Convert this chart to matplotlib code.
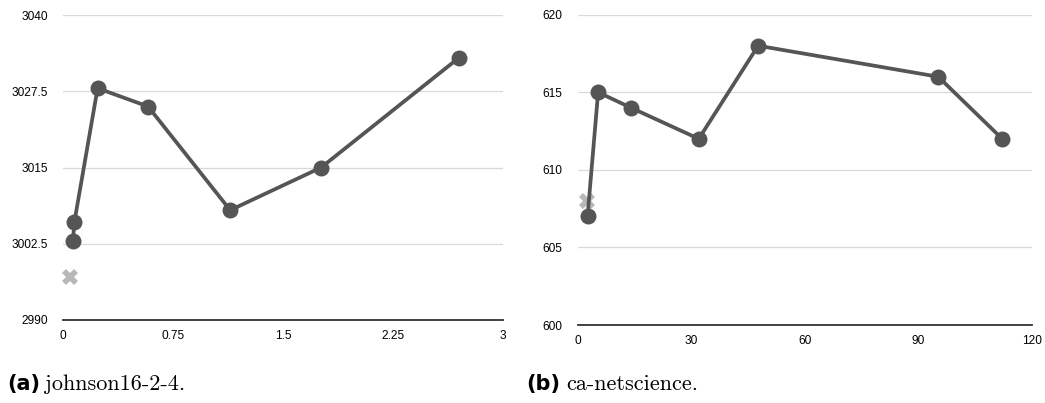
import matplotlib
matplotlib.use('Agg')
import matplotlib.pyplot as plt

# (a) johnson16-2-4
a_x = [0.068, 0.077, 0.236, 0.58, 1.14, 1.76, 2.70]
a_y = [3003, 3006, 3028, 3025, 3008, 3015, 3033]
a_cross = (0.048, 2997)
a_xticks = [0, 0.75, 1.5, 2.25, 3]
a_xlabels = ['0', '0.75', '1.5', '2.25', '3']
a_yticks = [2990, 3002.5, 3015, 3027.5, 3040]
a_ylabels = ['2990', '3002.5', '3015', '3027.5', '3040']

# (b) ca-netscience
b_x = [2.6, 5.4, 14.1, 32.0, 47.7, 95.3, 112.2]
b_y = [607, 615, 614, 612, 618, 616, 612]
b_cross = (2.4, 608)
b_xticks = [0, 30, 60, 90, 120]
b_yticks = [600, 605, 610, 615, 620]

LINE = '#555555'
GRID = '#d9d9d9'
TICKFONT = 'Liberation Sans'

fig = plt.figure(figsize=(10.45, 4.03), dpi=100)
ax1 = fig.add_axes([63/1045, 83/403, 440/1045, 305/403])
ax2 = fig.add_axes([577.7/1045, 78/403, 454/1045, 310.3/403])


def style(ax, xlim, ylim, xticks, yticks, xlabels, ylabels):
    ax.set_xlim(*xlim)
    ax.set_ylim(*ylim)
    ax.set_xticks(xticks)
    ax.set_xticklabels(xlabels, fontsize=8.6, family=TICKFONT)
    ax.set_yticks(yticks)
    ax.set_yticklabels(ylabels, fontsize=8.6, family=TICKFONT)
    for s in ['top', 'right', 'left']:
        ax.spines[s].set_visible(False)
    ax.spines['bottom'].set_color('#333333')
    ax.spines['bottom'].set_linewidth(1.3)
    ax.tick_params(axis='both', length=0)
    ax.tick_params(axis='y', pad=11)
    ax.tick_params(axis='x', pad=7)
    ax.grid(axis='y', color=GRID, linewidth=0.9)
    ax.set_axisbelow(True)


style(ax1, (0, 3), (2990, 3040), a_xticks, a_yticks, a_xlabels, a_ylabels)
style(ax2, (0, 120), (600, 620), b_xticks, b_yticks,
      [str(v) for v in b_xticks], [str(v) for v in b_yticks])

for ax, xs, ys, cr in [(ax1, a_x, a_y, a_cross), (ax2, b_x, b_y, b_cross)]:
    ax.plot(cr[0], cr[1], marker='X', markersize=12, color='#b8b8b8',
            markeredgewidth=0, linestyle='none', zorder=2, clip_on=False)
    ax.plot(xs, ys, color=LINE, linewidth=2.7, marker='o', markersize=11.5,
            markerfacecolor=LINE, markeredgewidth=0, zorder=3, clip_on=False)

cy = 1 - 384/403
fig.text(7/1045, cy, '(a)', fontsize=15, fontweight='bold', family='DejaVu Sans', va='center')
fig.text(45/1045, cy, 'johnson16-2-4.', fontsize=16, family='cmr10', va='center')
fig.text(526/1045, cy, '(b)', fontsize=15, fontweight='bold', family='DejaVu Sans', va='center')
fig.text(566/1045, cy, 'ca-netscience.', fontsize=16, family='cmr10', va='center')

plt.savefig('out.png', dpi=100)
plt.close()
